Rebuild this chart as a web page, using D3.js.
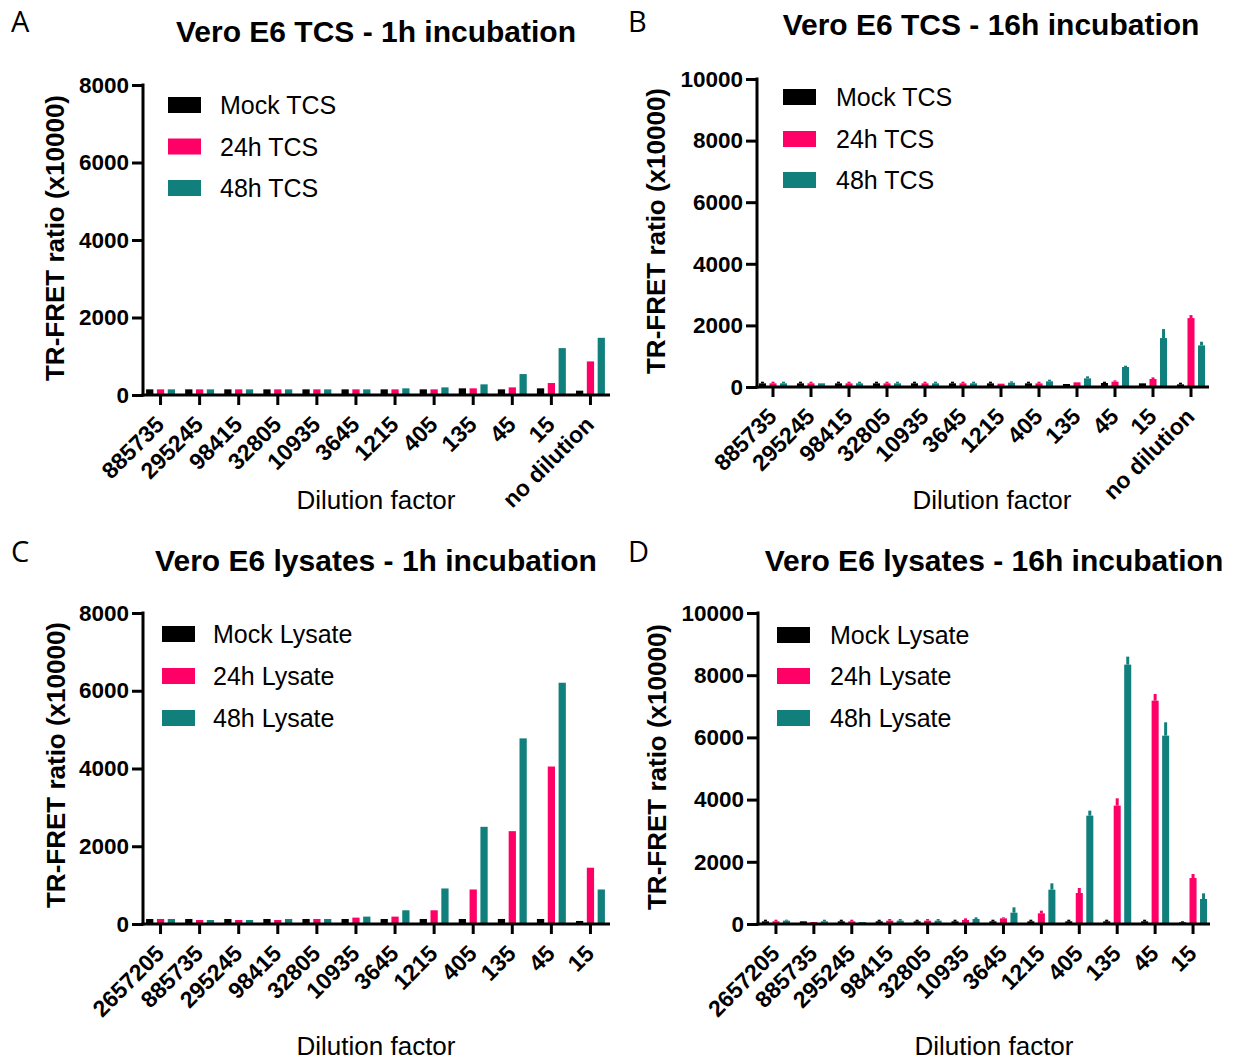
<!DOCTYPE html>
<html>
<head>
<meta charset="utf-8">
<script src="https://cdn.jsdelivr.net/npm/d3@7"></script>
<style>
  html, body { margin: 0; padding: 0; background: #fff; }
  svg { display: block; }
  text { font-family: "Liberation Sans", Arial, sans-serif; fill: #000; }
</style>
</head>
<body>
<svg id="chart" width="1234" height="1060"></svg>
<script>
// ---------------- DATA ----------------
const catsTCS = ["885735","295245","98415","32805","10935","3645","1215","405","135","45","15","no dilution"];
const catsLysate = ["2657205","885735","295245","98415","32805","10935","3645","1215","405","135","45","15"];
const seriesTCS = ["Mock TCS","24h TCS","48h TCS"];
const seriesLysate = ["Mock Lysate","24h Lysate","48h Lysate"];
const ticks8000 = [0,2000,4000,6000,8000];
const ticks10000 = [0,2000,4000,6000,8000,10000];
const colors = ["#000000","#ff0066","#11807c"];

// Panel A: Vero E6 TCS - 1h incubation
const aMock = [146,146,146,146,146,146,146,146,172,146,172,112];
const a24h  = [146,146,146,146,146,146,146,146,172,197,309,867];
const a48h  = [146,146,146,146,146,146,172,197,275,540,1210,1476];

// Panel B: Vero E6 TCS - 16h incubation (mean, upper error)
const bMock    = [119,119,119,119,119,119,119,119,97,130,119,86];
const bMockErr = [173,173,173,173,173,173,173,173,97,173,119,140];
const b24h     = [119,119,119,119,119,119,108,119,151,173,259,2238];
const b24hErr  = [173,173,173,173,173,173,108,173,151,216,313,2335];
const b48h     = [119,119,119,119,119,119,140,184,281,649,1589,1351];
const b48hErr  = [173,119,173,173,173,173,184,238,346,692,1881,1470];

// Panel C: Vero E6 lysates - 1h incubation
const cMock = [129,129,129,129,129,129,129,129,129,129,129,78];
const c24h  = [129,103,103,103,129,164,190,353,888,2388,4051,1448];
const c48h  = [129,103,103,129,129,190,353,914,2500,4775,6206,888];

// Panel D: Vero E6 lysates - 16h incubation (mean, upper error)
const dMock    = [86,86,86,86,86,86,86,86,86,86,86,54];
const dMockErr = [139,86,139,139,139,139,139,139,139,139,139,86];
const d24h     = [86,64,86,107,107,129,182,343,997,3806,7182,1479];
const d24hErr  = [139,64,139,161,161,182,214,429,1158,4041,7397,1608];
const d48h     = [107,86,64,107,107,161,364,1104,3484,8340,6057,804];
const d48hErr  = [139,139,64,161,161,214,536,1308,3645,8597,6486,986];

// ---------------- LAYOUT ----------------
const panels = [
  { letter:"A", title:"Vero E6 TCS - 1h incubation", cats:catsTCS, series:seriesTCS,
    vals:[aMock,a24h,a48h], errs:null, max:8000, ticks:ticks8000,
    axisX:143, band:[141,610], xEnd:610, yTop:85, yBase:395,
    letterPos:[11,32], titlePos:[376,42], ylabPos:[55,238], xlabPos:[376,509],
    legRect:168, legText:220, legRows:[105,146.5,188] },
  { letter:"B", title:"Vero E6 TCS - 16h incubation", cats:catsTCS, series:seriesTCS,
    vals:[bMock,b24h,b48h], errs:[bMockErr,b24hErr,b48hErr], max:10000, ticks:ticks10000,
    axisX:757, band:[754,1210], xEnd:1209, yTop:79, yBase:387,
    letterPos:[628,32], titlePos:[991,35], ylabPos:[656,231], xlabPos:[992,509],
    legRect:783, legText:836, legRows:[97,139,180] },
  { letter:"C", title:"Vero E6 lysates - 1h incubation", cats:catsLysate, series:seriesLysate,
    vals:[cMock,c24h,c48h], errs:null, max:8000, ticks:ticks8000,
    axisX:143, band:[141,610], xEnd:610, yTop:613, yBase:924,
    letterPos:[11,562], titlePos:[376,571], ylabPos:[56,765], xlabPos:[376,1055],
    legRect:162, legText:213, legRows:[634,676,718] },
  { letter:"D", title:"Vero E6 lysates - 16h incubation", cats:catsLysate, series:seriesLysate,
    vals:[dMock,d24h,d48h], errs:[dMockErr,d24hErr,d48hErr], max:10000, ticks:ticks10000,
    axisX:758, band:[757,1212], xEnd:1210, yTop:613, yBase:924,
    letterPos:[628,562], titlePos:[994,571], ylabPos:[657,767], xlabPos:[994,1055],
    legRect:777, legText:830, legRows:[635,676,718] }
];

const svg = d3.select("#chart");

panels.forEach(p => {
  const g = svg.append("g");
  const x = d3.scaleBand().domain(p.cats).range(p.band).padding(0);
  const groupW = x.step() * 0.74;
  const xs = d3.scaleBand().domain(d3.range(3)).range([-groupW/2, groupW/2]).paddingInner(0.33);
  const y = d3.scaleLinear().domain([0, p.max]).range([p.yBase, p.yTop]);

  // bars
  p.vals.forEach((arr, si) => {
    g.append("g").selectAll("rect").data(arr).join("rect")
      .attr("x", (d,i) => x(p.cats[i]) + x.bandwidth()/2 + xs(si))
      .attr("width", xs.bandwidth())
      .attr("y", d => y(d))
      .attr("height", d => p.yBase - y(d))
      .attr("fill", colors[si]);
    if (p.errs) {
      g.append("g").selectAll("line").data(p.errs[si]).join("line")
        .attr("x1", (d,i) => x(p.cats[i]) + x.bandwidth()/2 + xs(si) + xs.bandwidth()/2)
        .attr("x2", (d,i) => x(p.cats[i]) + x.bandwidth()/2 + xs(si) + xs.bandwidth()/2)
        .attr("y1", (d,i) => y(arr[i]))
        .attr("y2", d => y(d))
        .attr("stroke", colors[si])
        .attr("stroke-width", 3);
    }
  });

  // y axis
  const yAxis = d3.axisLeft(y).tickValues(p.ticks).tickSize(11).tickSizeOuter(0)
    .tickPadding(3).tickFormat(d3.format("d"));
  const ya = g.append("g").attr("transform", `translate(${p.axisX},0)`).call(yAxis);
  ya.select(".domain").remove();
  ya.selectAll(".tick line").attr("stroke", "#000").attr("stroke-width", 3);
  ya.selectAll(".tick text").style("font-size", "22.5px").style("font-weight", "bold")
    .style("font-family", "'Liberation Sans', Arial, sans-serif");
  g.append("line").attr("x1", p.axisX).attr("x2", p.axisX)
    .attr("y1", y(p.max) - 1.5).attr("y2", p.yBase + 1.5)
    .attr("stroke", "#000").attr("stroke-width", 3);

  // x axis
  const xAxis = d3.axisBottom(x).tickSize(10).tickSizeOuter(0);
  const xa = g.append("g").attr("transform", `translate(0,${p.yBase})`).call(xAxis);
  xa.select(".domain").remove();
  xa.selectAll(".tick line").attr("stroke", "#000").attr("stroke-width", 3);
  xa.selectAll(".tick text")
    .attr("x", 0).attr("y", 0).attr("dy", 0)
    .attr("transform", "translate(5,31) rotate(-45)")
    .style("text-anchor", "end")
    .style("font-size", "23px").style("font-weight", "bold")
    .style("font-family", "'Liberation Sans', Arial, sans-serif");
  g.append("line").attr("x1", p.axisX - 1.5).attr("x2", p.xEnd)
    .attr("y1", p.yBase).attr("y2", p.yBase)
    .attr("stroke", "#000").attr("stroke-width", 3);

  // titles & labels
  g.append("text").attr("x", p.letterPos[0]).attr("y", p.letterPos[1])
    .style("font-family", "'Open Sans', 'DejaVu Sans', sans-serif")
    .style("font-size", "29px").text(p.letter);
  g.append("text").attr("x", p.titlePos[0]).attr("y", p.titlePos[1])
    .attr("text-anchor", "middle").style("font-size", "30px").style("font-weight", "bold")
    .text(p.title);
  g.append("text")
    .attr("transform", `translate(${p.ylabPos[0]},${p.ylabPos[1]}) rotate(-90)`)
    .attr("dy", "0.36em").attr("text-anchor", "middle")
    .style("font-size", "26px").style("font-weight", "bold")
    .text("TR-FRET ratio (x10000)");
  g.append("text").attr("x", p.xlabPos[0]).attr("y", p.xlabPos[1])
    .attr("text-anchor", "middle").style("font-size", "26px")
    .text("Dilution factor");

  // legend
  p.series.forEach((s, si) => {
    g.append("rect").attr("x", p.legRect).attr("y", p.legRows[si] - 8)
      .attr("width", 33).attr("height", 16).attr("fill", colors[si]);
    g.append("text").attr("x", p.legText).attr("y", p.legRows[si])
      .attr("dy", "0.36em").style("font-size", "25px").text(s);
  });
});
</script>
</body>
</html>
